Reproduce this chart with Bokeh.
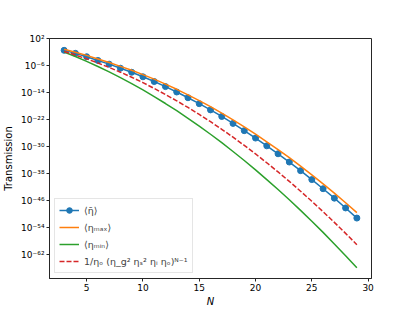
import numpy as np
from bokeh.plotting import figure
from bokeh.models import (Range1d, FixedTicker, CustomJSTickFormatter, Legend, LegendItem)
from bokeh.embed import file_html
from bokeh.resources import INLINE

# Number of elements N
N = list(range(3, 30))
# log10 of transmission values
log_eta_mean = [-1.5, -2.4, -3.4, -4.5, -5.6, -6.8, -8.0, -9.35, -10.75, -12.25, -13.85,
                -15.55, -17.3, -19.15, -21.1, -23.15, -25.3, -27.5, -29.8, -32.15, -34.6,
                -37.15, -39.8, -42.5, -45.3, -48.2, -51.2]
log_eta_max = [-1.2, -2.05, -3.0, -4.05, -5.1, -6.25, -7.4, -8.7, -10.05, -11.5, -13.05,
               -14.7, -16.4, -18.2, -20.1, -22.1, -24.2, -26.35, -28.6, -30.9, -33.3,
               -35.8, -38.4, -41.05, -43.8, -46.65, -49.6]
log_eta_min = [-2.0, -3.34, -4.76, -6.28, -7.88, -9.58, -11.37, -13.24, -15.2, -17.26, -19.4,
               -21.63, -23.96, -26.37, -28.87, -31.47, -34.15, -36.92, -39.79, -42.74, -45.78,
               -48.91, -52.13, -55.44, -58.85, -62.33, -65.9]
log_approx = [-1.85, -2.89, -4.03, -5.26, -6.58, -7.98, -9.47, -11.07, -12.8, -14.61, -16.46,
              -18.43, -20.49, -22.65, -24.89, -27.24, -29.67, -32.2, -34.82, -37.53, -40.33,
              -43.24, -46.23, -49.31, -52.47, -55.73, -59.08]

x_ticks = [5, 10, 15, 20, 25, 30]
y_tick_exps = [2, -6, -14, -22, -30, -38, -46, -54, -62]

labels = ["⟨η\u0304⟩", "⟨ηₘₐₓ⟩", "⟨ηₘᵢₙ⟩", "1/ηₒ (η_g² ηₛ² ηᵢ ηₒ)ᴺ⁻¹"]

FONT = "DejaVu Sans"

p = figure(output_backend="svg", toolbar_location=None, y_axis_type="log",
           frame_width=322, frame_height=240,
           x_range=Range1d(1.7, 30.3), y_range=Range1d(10 ** -69.1, 10 ** 2.0),
           min_border_left=47, min_border_top=38, min_border_right=30, min_border_bottom=14)
p.background_fill_color = "white"
p.border_fill_color = "white"
p.grid.visible = False
p.outline_line_color = "#262626"
p.outline_line_width = 1

def to_lin(a):
    return [10.0 ** v for v in a]

r_mean_l = p.line(N, to_lin(log_eta_mean), line_color="#1f77b4", line_width=1.5)
r_mean_s = p.scatter(N, to_lin(log_eta_mean), size=6, fill_color="#1f77b4", line_color="#1f77b4")
r_max = p.line(N, to_lin(log_eta_max), line_color="#ff7f0e", line_width=1.5)
r_min = p.line(N, to_lin(log_eta_min), line_color="#2ca02c", line_width=1.5)
r_app = p.line(N, to_lin(log_approx), line_color="#d62728", line_width=1.5, line_dash="5 2")

p.xaxis.ticker = FixedTicker(ticks=x_ticks, minor_ticks=[])
p.yaxis.ticker = FixedTicker(ticks=[10.0 ** e for e in y_tick_exps], minor_ticks=[])
p.yaxis.formatter = CustomJSTickFormatter(code="""
const sup = {'-':'\u207b','0':'\u2070','1':'\u00b9','2':'\u00b2','3':'\u00b3','4':'\u2074',
             '5':'\u2075','6':'\u2076','7':'\u2077','8':'\u2078','9':'\u2079'};
const e = Math.round(Math.log10(tick));
return '10' + String(e).split('').map(c => sup[c]).join('');
""")

for ax in (p.xaxis[0], p.yaxis[0]):
    ax.major_tick_in = 0
    ax.major_tick_out = 3
    ax.minor_tick_in = 0
    ax.minor_tick_out = 0
    ax.axis_line_color = "#262626"
    ax.major_tick_line_color = "#262626"
    ax.major_label_text_font = FONT
    ax.major_label_text_font_size = "9px"
    ax.major_label_text_color = "#000000"
    ax.axis_label_text_font = FONT
    ax.axis_label_text_font_size = "10px"
    ax.axis_label_text_color = "#000000"
    ax.major_label_standoff = 2

p.xaxis.axis_label = "N"
p.xaxis.axis_label_text_font_style = "italic"
p.xaxis.axis_label_standoff = 2
p.yaxis.axis_label = "Transmission"
p.yaxis.axis_label_text_font_style = "normal"
p.yaxis.axis_label_standoff = 4

legend = Legend(items=[
    LegendItem(label=labels[0], renderers=[r_mean_l, r_mean_s]),
    LegendItem(label=labels[1], renderers=[r_max]),
    LegendItem(label=labels[2], renderers=[r_min]),
    LegendItem(label=labels[3], renderers=[r_app]),
], location="bottom_left")
legend.margin = 5
legend.padding = 4
legend.spacing = 3
legend.label_height = 14
legend.glyph_height = 14
legend.glyph_width = 20
legend.label_text_font = FONT
legend.label_text_font_size = "9.5px"
legend.border_line_color = "#cccccc"
legend.border_line_width = 1
legend.background_fill_alpha = 0.8
p.add_layout(legend, "center")

open("out.html", "w").write(file_html(p, INLINE))
